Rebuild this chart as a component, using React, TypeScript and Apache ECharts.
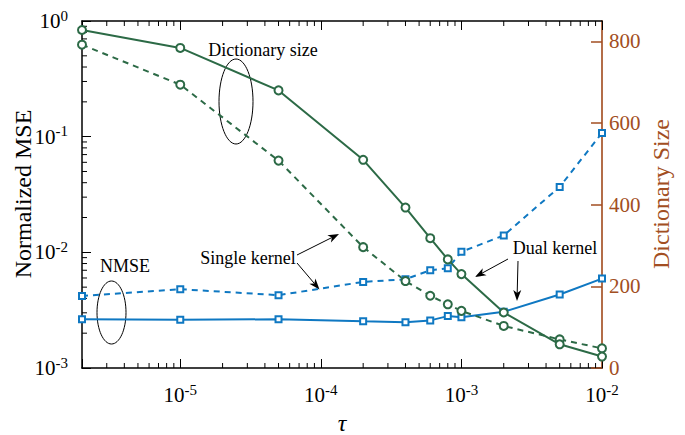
import React, { useEffect, useRef } from 'react';
import * as echarts from 'echarts';

// ---- data ----
const tau = [2e-6, 1e-5, 5e-5, 2e-4, 4e-4, 6e-4, 8e-4, 1e-3, 2e-3, 5e-3, 1e-2];
const nmseSingle = [4.2e-3, 4.8e-3, 4.26e-3, 5.55e-3, 5.85e-3, 7.0e-3, 7.28e-3, 1.01e-2, 1.4e-2, 3.68e-2, 0.1076];
const nmseDual = [2.64e-3, 2.61e-3, 2.64e-3, 2.53e-3, 2.49e-3, 2.58e-3, 2.81e-3, 2.75e-3, 3.06e-3, 4.32e-3, 5.93e-3];
const dictSingle = [792, 694, 508, 296, 213, 177, 156, 140, 103, 70, 48];
const dictDual = [828, 784, 680, 510, 393, 318, 266, 230, 136, 58, 28];

const rightTicks = [0, 200, 400, 600, 800];
const xMinorTicks = [
  3e-6, 4e-6, 5e-6, 6e-6, 7e-6, 8e-6, 9e-6,
  2e-5, 3e-5, 4e-5, 5e-5, 6e-5, 7e-5, 8e-5, 9e-5,
  2e-4, 3e-4, 4e-4, 5e-4, 6e-4, 7e-4, 8e-4, 9e-4,
  2e-3, 3e-3, 4e-3, 5e-3, 6e-3, 7e-3, 8e-3, 9e-3,
];
const yMinorTicks = [
  2e-3, 3e-3, 4e-3, 5e-3, 6e-3, 7e-3, 8e-3, 9e-3,
  2e-2, 3e-2, 4e-2, 5e-2, 6e-2, 7e-2, 8e-2, 9e-2,
  0.2, 0.3, 0.4, 0.5, 0.6, 0.7, 0.8, 0.9,
];

const X_MIN = 2e-6;
const X_MAX = 1e-2;
const Y_MIN = 1e-3;
const Y_MAX = 1;
const R_MAX = 850;

const GREEN = '#2C6A46';
const BLUE = '#0F78C2';
const BROWN = '#A24E22';
const FONT = 'Liberation Serif';

function powLabel(v: number) {
  const e = Math.round(Math.log10(v));
  if (Math.abs(Math.log10(v) - e) > 1e-6) return '';
  return `{base|10}{sup|${e}}`;
}

const richPow = {
  base: { fontSize: 21, fontFamily: FONT, color: '#000', lineHeight: 26 },
  sup: { fontSize: 15, fontFamily: FONT, color: '#000', lineHeight: 15, verticalAlign: 'top' },
};

function arrow(x1: number, y1: number, x2: number, y2: number) {
  const ang = Math.atan2(y2 - y1, x2 - x1);
  const L = 11;
  const W = 4;
  const bx = x2 - L * Math.cos(ang);
  const by = y2 - L * Math.sin(ang);
  const nx = x2 - (L - 3) * Math.cos(ang);
  const ny = y2 - (L - 3) * Math.sin(ang);
  const px = -Math.sin(ang) * W;
  const py = Math.cos(ang) * W;
  return [
    { type: 'line', shape: { x1, y1, x2: nx, y2: ny }, style: { stroke: '#000', lineWidth: 1 } },
    {
      type: 'polygon',
      shape: { points: [[x2, y2], [bx + px, by + py], [nx, ny], [bx - px, by - py]] },
      style: { fill: '#000' },
    },
  ];
}

function textEl(text: string, x: number, y: number, size: number, fill = '#000', extra: any = {}) {
  return {
    type: 'text',
    x,
    y,
    ...extra,
    style: {
      text,
      fontSize: size,
      fontFamily: FONT,
      fontStyle: extra.italic ? 'italic' : 'normal',
      fill,
      textAlign: 'center',
      textVerticalAlign: 'middle',
    },
  };
}

export default function App() {
  const ref = useRef<HTMLDivElement>(null);
  useEffect(() => {
    if (!ref.current) return;
    const chart = echarts.init(ref.current, null, { renderer: 'svg' });
    const xAxisBase = {
      type: 'log',
      logBase: 10,
      min: X_MIN,
      max: X_MAX,
      splitLine: { show: false },
      axisLine: { lineStyle: { color: '#000', width: 1.5 } },
      axisTick: { inside: true, length: 9, lineStyle: { color: '#000', width: 1 } },
    };
    chart.setOption({
      animation: false,
      textStyle: { fontFamily: FONT },
      grid: { left: 82, right: 83, top: 21, bottom: 67, containLabel: false },
      xAxis: [
        {
          ...xAxisBase,
          position: 'bottom',
          axisLabel: { formatter: powLabel, rich: richPow, margin: 14, showMinLabel: true, showMaxLabel: true },
        },
        {
          ...xAxisBase,
          position: 'top',
          axisLabel: { show: false },
        },
      ],
      yAxis: [
        {
          type: 'log',
          logBase: 10,
          min: Y_MIN,
          max: Y_MAX,
          position: 'left',
          splitLine: { show: false },
          axisLine: { lineStyle: { color: '#000', width: 1.5 } },
          axisTick: { inside: true, length: 9, lineStyle: { color: '#000', width: 1 } },
          axisLabel: { formatter: powLabel, rich: richPow, margin: 14 },
        },
        {
          type: 'value',
          min: 0,
          max: R_MAX,
          position: 'right',
          splitLine: { show: false },
          axisLine: { show: true, lineStyle: { color: '#B36D48', width: 2 } },
          axisTick: {
            show: true,
            inside: true,
            length: 11,
            customValues: rightTicks,
            lineStyle: { color: BROWN, width: 1.5 },
          },
          axisLabel: {
            customValues: rightTicks,
            color: BROWN,
            fontSize: 21,
            fontFamily: FONT,
            margin: 7,
          },
        },
      ],
      graphic: [
        textEl('Normalized MSE', 23, 194, 24, '#000', { rotation: Math.PI / 2 }),
        textEl('Dictionary Size', 661, 194, 24, BROWN, { rotation: Math.PI / 2 }),
        textEl('τ', 342, 423, 24, '#000', { italic: true }),
        textEl('Dictionary size', 263, 50, 18),
        textEl('NMSE', 125, 266, 18),
        textEl('Single kernel', 248, 258, 18),
        textEl('Dual kernel', 555, 248, 18),
        { type: 'ellipse', shape: { cx: 236, cy: 101.5, rx: 17, ry: 42.5 }, style: { stroke: '#000', fill: 'none', lineWidth: 1 } },
        { type: 'ellipse', shape: { cx: 111.5, cy: 312.5, rx: 14.5, ry: 31.5 }, style: { stroke: '#000', fill: 'none', lineWidth: 1 } },
        ...arrow(297, 255, 339, 234),
        ...arrow(297, 263, 319.5, 289.5),
        ...arrow(508, 259, 475, 277),
        ...arrow(518, 261, 517, 301),
      ],
      series: [
        {
          type: 'custom',
          xAxisIndex: 0,
          yAxisIndex: 0,
          silent: true,
          data: xMinorTicks.map((v) => [v, Y_MIN]),
          renderItem: (_p: any, api: any) => {
            const v = api.value(0);
            const b = api.coord([v, Y_MIN]);
            const t = api.coord([v, Y_MAX]);
            return {
              type: 'group',
              children: [
                { type: 'line', shape: { x1: b[0], y1: b[1], x2: b[0], y2: b[1] - 5 }, style: { stroke: '#000', lineWidth: 1 } },
                { type: 'line', shape: { x1: t[0], y1: t[1], x2: t[0], y2: t[1] + 5 }, style: { stroke: '#000', lineWidth: 1 } },
              ],
            };
          },
        },
        {
          type: 'custom',
          xAxisIndex: 0,
          yAxisIndex: 0,
          silent: true,
          data: yMinorTicks.map((v) => [X_MIN, v]),
          renderItem: (_p: any, api: any) => {
            const v = api.value(1);
            const l = api.coord([X_MIN, v]);
            return {
              type: 'line',
              shape: { x1: l[0], y1: l[1], x2: l[0] + 5, y2: l[1] },
              style: { stroke: '#000', lineWidth: 1 },
            };
          },
        },
        {
          name: 'NMSE single',
          type: 'line',
          xAxisIndex: 0,
          yAxisIndex: 0,
          data: tau.map((t, i) => [t, nmseSingle[i]]),
          symbol: 'emptyRect',
          symbolSize: 6,
          lineStyle: { color: BLUE, width: 2, type: [6, 5] },
          itemStyle: { color: BLUE, borderWidth: 1.6 },
        },
        {
          name: 'NMSE dual',
          type: 'line',
          xAxisIndex: 0,
          yAxisIndex: 0,
          data: tau.map((t, i) => [t, nmseDual[i]]),
          symbol: 'emptyRect',
          symbolSize: 6,
          lineStyle: { color: BLUE, width: 2 },
          itemStyle: { color: BLUE, borderWidth: 1.6 },
        },
        {
          name: 'Dict single',
          type: 'line',
          xAxisIndex: 0,
          yAxisIndex: 1,
          data: tau.map((t, i) => [t, dictSingle[i]]),
          symbol: 'emptyCircle',
          symbolSize: 8,
          lineStyle: { color: GREEN, width: 2, type: [6, 5] },
          itemStyle: { color: GREEN, borderWidth: 1.6 },
        },
        {
          name: 'Dict dual',
          type: 'line',
          xAxisIndex: 0,
          yAxisIndex: 1,
          data: tau.map((t, i) => [t, dictDual[i]]),
          symbol: 'emptyCircle',
          symbolSize: 8,
          lineStyle: { color: GREEN, width: 2 },
          itemStyle: { color: GREEN, borderWidth: 1.6 },
        },
      ],
    });
    return () => chart.dispose();
  }, []);
  return <div ref={ref} style={{ position: 'absolute', left: 0, top: 0, width: 685, height: 435 }} />;
}
